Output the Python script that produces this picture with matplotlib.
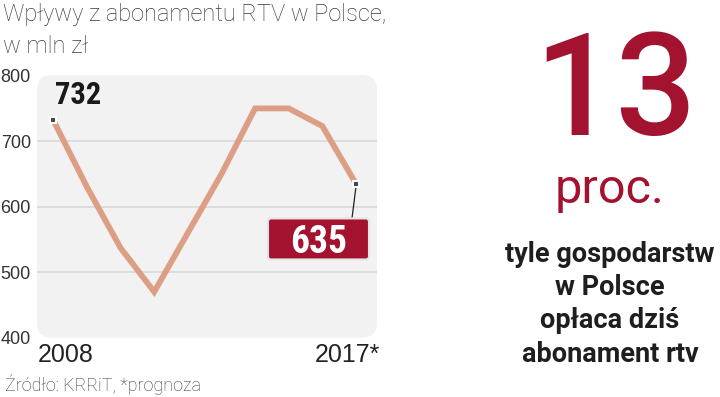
import matplotlib
matplotlib.use("Agg")
import matplotlib.pyplot as plt
from matplotlib import font_manager as fm
from matplotlib.patches import FancyBboxPatch
from matplotlib.transforms import ScaledTranslation

# ---- data ----
years = [2008, 2009, 2010, 2011, 2012, 2013, 2014, 2015, 2016, 2017]
values = [732, 630, 537, 470, 560, 650, 750, 750, 723, 635]
y_ticks = [400, 500, 600, 700, 800]
x_labels = ["2008", "2017*"]
title_lines = ["Wpływy z abonamentu RTV w Polsce,", "w mln zł"]
source = "Źródło: KRRiT, *prognoza"
big_number = "13"
big_unit = "proc."
side_lines = ["tyle gospodarstw", "w Polsce", "opłaca dziś", "abonament rtv"]

names = {f.name for f in fm.fontManager.ttflist}
NARROW = next((n for n in ["Roboto Condensed", "Liberation Sans Narrow", "Open Sans Condensed"]
               if n in names), "Liberation Sans")
SANS = "Roboto" if "Roboto" in names else "DejaVu Sans"

CRIMSON = "#A3122F"
LINE = "#DD9E86"

W, H = 720, 397
fig = plt.figure(figsize=(W / 100, H / 100), dpi=100)

ax_l, ax_r, ax_t, ax_b = 37, 377, 75, 337.7
ax = fig.add_axes([ax_l / W, 1 - ax_b / H, (ax_r - ax_l) / W, (ax_b - ax_t) / H])
ax.set_xlim(2007.515, 2017.625)
ax.set_ylim(400, 801)
ax.patch.set_visible(False)
for s in ax.spines.values():
    s.set_visible(False)

panel = FancyBboxPatch((0, 0), 1, 1, boxstyle="round,pad=0,rounding_size=0.044",
                       mutation_aspect=(ax_r - ax_l) / (ax_b - ax_t),
                       transform=ax.transAxes, fc="#F2F2F2", ec="none",
                       zorder=0, clip_on=False)
ax.add_patch(panel)

for v in y_ticks[1:-1]:
    ax.axhline(v, color="#D8D8D8", lw=1.2, zorder=1)

ax.set_xticks([])
ax.set_yticks(y_ticks)
ax.set_yticklabels([str(v) for v in y_ticks], family=["Liberation Sans"], fontsize=13, color="#333333")
ax.tick_params(axis="y", length=0, pad=4.5)

ax.plot(years, values, color=LINE, lw=4.2, solid_joinstyle="miter", zorder=3, clip_on=False)
ax.plot([years[0], years[-1]], [values[0], values[-1]], "s", ms=5, mfc="#4a4a4a",
        mec="white", mew=1.4, zorder=5, clip_on=False)

ax.annotate(str(values[0]), xy=(years[0], values[0]), xytext=(2, 16),
            textcoords="offset pixels", ha="left", va="baseline",
            fontsize=22, fontweight="bold", family=[NARROW], color="#1a1a1a")

trans = ScaledTranslation(years[-1], values[-1], ax.transData)
box = FancyBboxPatch((-88, -75.7), 101, 41, boxstyle="round,pad=0,rounding_size=3",
                     transform=trans, fc=CRIMSON, ec="#E4E4E4", lw=1.5, zorder=6, clip_on=False)
ax.add_patch(box)
ax.plot([0, -4], [-3, -34.7], transform=trans, color="#222222", lw=0.9, zorder=4, clip_on=False)
ax.text(-37.5, -69, str(values[-1]), transform=trans, ha="center", va="baseline",
        fontsize=27, fontweight="bold", family=[NARROW], color="white", zorder=7)

ax.annotate(x_labels[0], xy=(years[0], 0), xycoords=("data", "axes fraction"),
            xytext=(38 - 53.3, -24.3), textcoords="offset pixels", ha="left", va="baseline",
            fontsize=18, family=["Liberation Sans"], color="#222222")
ax.annotate(x_labels[1], xy=(years[-1], 0), xycoords=("data", "axes fraction"),
            xytext=(380 - 356, -24.3), textcoords="offset pixels", ha="right", va="baseline",
            fontsize=18, family=["Liberation Sans"], color="#222222")

fig.text(3 / W, 1 - 20.7 / H, title_lines[0], ha="left", va="baseline",
         fontsize=17, family=[SANS], fontweight="light", color="#3a3a3a")
fig.text(3 / W, 1 - 53.3 / H, title_lines[1], ha="left", va="baseline",
         fontsize=17, family=[SANS], fontweight="light", color="#3a3a3a")
fig.text(5 / W, 1 - 391 / H, source, ha="left", va="baseline",
         fontsize=13, family=[SANS], fontweight="light", color="#3a3a3a")

fig.text(616 / W, 1 - 135 / H, big_number, ha="center", va="baseline",
         fontsize=103, family=[SANS], fontweight=500, color=CRIMSON)
fig.text(610 / W, 1 - 203 / H, big_unit, ha="center", va="baseline",
         fontsize=35, family=[SANS], color=CRIMSON)
for yb, line in zip([262, 295, 328, 362], side_lines):
    fig.text(610 / W, 1 - yb / H, line, ha="center", va="baseline",
             fontsize=19.5, family=[SANS], fontweight="bold", color="#1e1e1e")

fig.savefig("out.png", dpi=100)
